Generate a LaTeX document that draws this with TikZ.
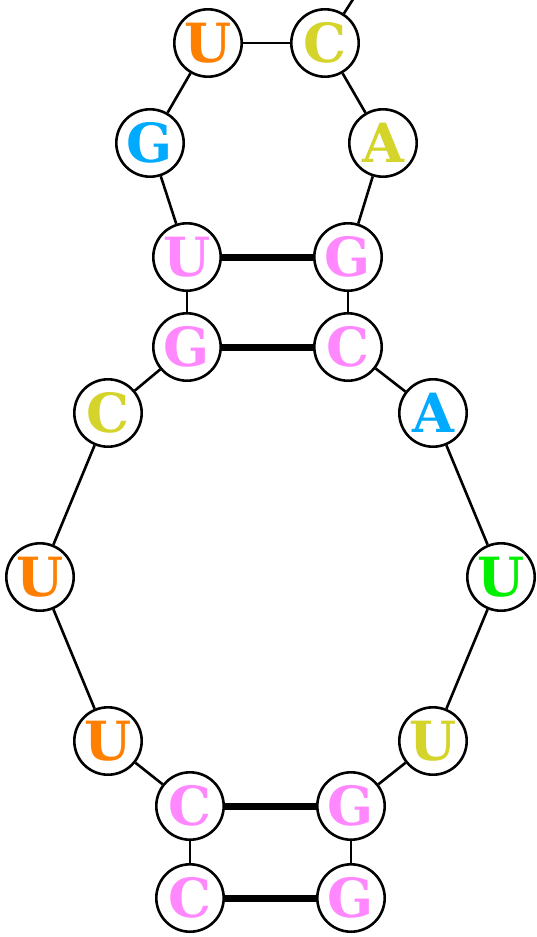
\documentclass[tikz,border=0pt]{standalone}
\usepackage{fontspec}
\newfontfamily\basefont{DejaVu Serif}
\definecolor{cU}{HTML}{FF8000}
\definecolor{cC}{HTML}{D4D42A}
\definecolor{cP}{HTML}{FF88FF}
\definecolor{cB}{HTML}{00AAFF}
\definecolor{cG}{HTML}{00F000}
\begin{document}
\begin{tikzpicture}[x=1pt,y=-1pt,
  nt/.style={circle,draw=black,line width=2.6pt,fill=white,minimum size=67.4pt,inner sep=0pt,
    font=\basefont\bfseries\fontsize{54}{54}\selectfont},
  bb/.style={line width=2.6pt},
  bp/.style={line width=7pt}]
\useasboundingbox (0,0) rectangle (536,937);
\coordinate (top) at (359,-10);
\node[nt,text=cU] (n1) at (208,43) {U};
\node[nt,text=cC] (n2) at (325,43) {C};
\node[nt,text=cB] (n3) at (150,143) {G};
\node[nt,text=cC] (n4) at (383,143) {A};
\node[nt,text=cP] (n5) at (187,257) {U};
\node[nt,text=cP] (n6) at (348,257) {G};
\node[nt,text=cP] (n7) at (187,347) {G};
\node[nt,text=cP] (n8) at (348,347) {C};
\node[nt,text=cC] (n9) at (108,413) {C};
\node[nt,text=cB] (n10) at (433,413) {A};
\node[nt,text=cU] (n11) at (40,577) {U};
\node[nt,text=cG] (n12) at (501,577) {U};
\node[nt,text=cU] (n13) at (108,741) {U};
\node[nt,text=cC] (n14) at (433,741) {U};
\node[nt,text=cP] (n15) at (190,806) {C};
\node[nt,text=cP] (n16) at (351,806) {G};
\node[nt,text=cP] (n17) at (190,898) {C};
\node[nt,text=cP] (n18) at (351,898) {G};
\draw[bb] (top) -- (n2);
\foreach \a/\b in {n1/n2,n1/n3,n3/n5,n5/n7,n7/n9,n9/n11,n11/n13,n13/n15,n15/n17,
  n2/n4,n4/n6,n6/n8,n8/n10,n10/n12,n12/n14,n14/n16,n16/n18}
  \draw[bb] (\a) -- (\b);
\draw[bp] (n5) -- (n6);
\draw[bp] (n7) -- (n8);
\draw[bp] (n15) -- (n16);
\draw[bp] (n17) -- (n18);
\end{tikzpicture}
\end{document}
